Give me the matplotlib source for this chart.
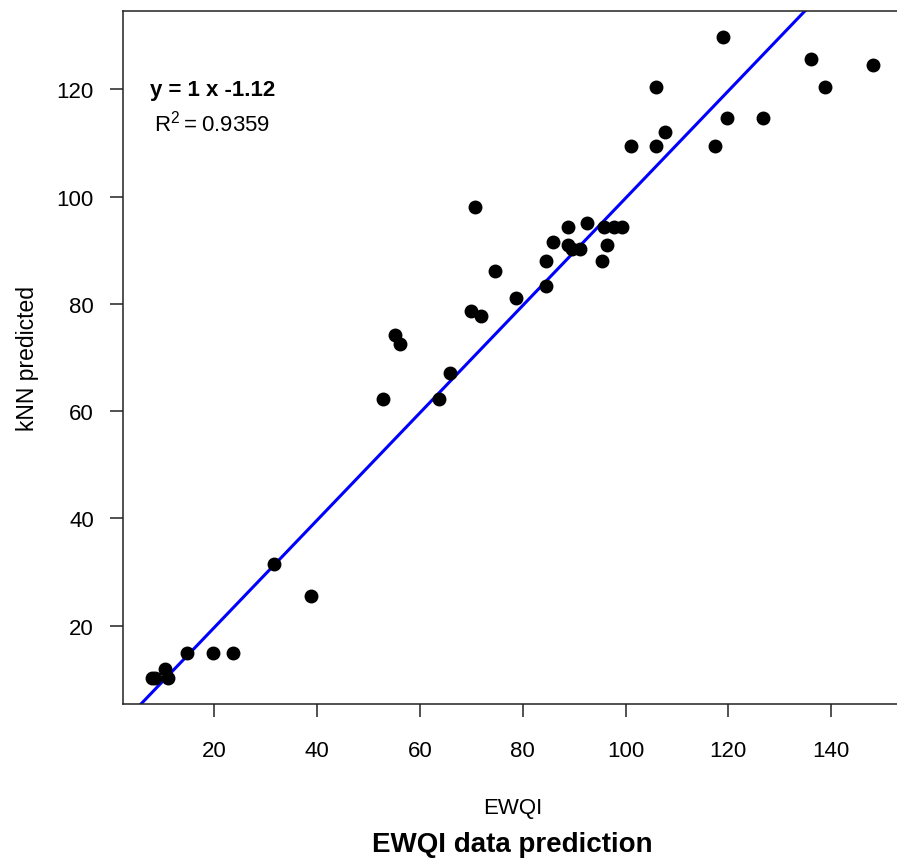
import matplotlib
matplotlib.use("Agg")
import matplotlib.pyplot as plt
import numpy as np

# EWQI vs kNN predicted values
ewqi = [7.8, 8.5, 10.4, 10.9, 14.6, 19.8, 23.6, 31.5, 38.8, 52.8,
        63.7, 65.8, 55.1, 56.1, 70.7, 74.6, 78.6, 69.9, 71.9, 119.0,
        136.0, 148.2, 138.8, 106.0, 119.8, 126.7, 107.7, 101.1, 106.0, 117.5,
        92.5, 88.8, 95.8, 97.7, 99.3, 85.9, 88.8, 96.3, 89.6, 91.2,
        84.6, 95.5, 84.6]
knn = [10.2, 10.2, 11.9, 10.2, 14.9, 14.9, 14.9, 31.5, 25.6, 62.2,
       62.2, 67.2, 74.2, 72.5, 98.1, 86.1, 81.1, 78.6, 77.8, 129.8,
       125.7, 124.6, 120.4, 120.4, 114.7, 114.7, 112.1, 109.5, 109.5, 109.5,
       95.1, 94.3, 94.3, 94.3, 94.3, 91.5, 91.0, 91.0, 90.3, 90.2,
       87.9, 87.9, 83.3]

x_ticks = [20, 40, 60, 80, 100, 120, 140]
y_ticks = [20, 40, 60, 80, 100, 120]

# fitted line as it is drawn in the picture
line_slope = 1.0
line_intercept = -0.3
eq_text = "y = 1 x -1.12"
r2_text = r"$\mathregular{R^2 = 0.9359}$"

plt.rcParams['font.family'] = ['Liberation Sans', 'DejaVu Sans']

fig = plt.figure(figsize=(8.97, 8.62), dpi=100)
ax = fig.add_axes([123/897, 157/862, 779/897, 693/862])

ax.plot(ewqi, knn, 'o', color='black', markersize=9, zorder=3)

xs = np.array([0, 160])
ax.plot(xs, line_slope * xs + line_intercept, color='#0000FF', linewidth=2.2, zorder=2)

ax.set_xlim(2.2, 153.8)
ax.set_ylim(5.4, 134.6)
ax.set_xticks(x_ticks)
ax.set_yticks(y_ticks)
ax.tick_params(axis='both', length=9.4, width=1.1, labelsize=16, color='#222222')
ax.tick_params(axis='x', pad=16.5)
ax.tick_params(axis='y', pad=11.5)

for s in ax.spines.values():
    s.set_linewidth(1.1)
    s.set_color('#222222')
ax.spines['right'].set_visible(False)

ax.text(7.5, 120, eq_text, fontsize=16, fontweight='bold', ha='left', va='center')
ax.text(8.3, 113.8, r2_text, fontsize=16, ha='left', va='center')

ax.set_xlabel("EWQI", fontsize=16, va='baseline')
ax.xaxis.set_label_coords(0.5, -0.1573)
ax.set_ylabel("kNN predicted", fontsize=16.5, va='center')
ax.yaxis.set_label_coords(-0.123, 0.5)

ax.text(0.5, -0.2121, "EWQI data prediction", transform=ax.transAxes,
        fontsize=20, fontweight='bold', ha='center', va='baseline')

fig.savefig("out.png", dpi=100)
